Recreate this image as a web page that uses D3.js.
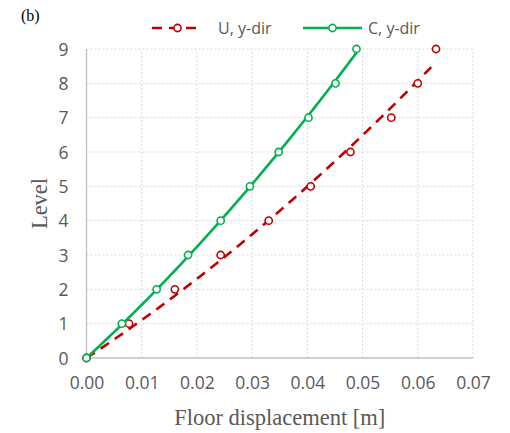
<!DOCTYPE html>
<html>
<head>
<meta charset="utf-8">
<script src="https://cdn.jsdelivr.net/npm/d3@7"></script>
<style>
  html, body { margin: 0; padding: 0; background: #fff; }
  svg { display: block; }
</style>
</head>
<body>
<svg id="chart" width="510" height="433"></svg>
<script>
// Storey levels and floor displacements [m]
const levels = [0, 1, 2, 3, 4, 5, 6, 7, 8, 9];
const dispU = [0.0000, 0.0077, 0.0160, 0.0243, 0.0330, 0.0406, 0.0478, 0.0552, 0.0600, 0.0633];
const dispC = [0.0000, 0.0064, 0.0127, 0.0184, 0.0243, 0.0296, 0.0348, 0.0402, 0.0451, 0.0489];
const seriesNames = ["U, y-dir", "C, y-dir"];
const xTicks = [0, 0.01, 0.02, 0.03, 0.04, 0.05, 0.06, 0.07];
const yTicks = [0, 1, 2, 3, 4, 5, 6, 7, 8, 9];

const red = "#C00000", green = "#00B050", textGrey = "#595959";
const svg = d3.select("#chart");
const margin = { left: 86.5, right: 37, top: 49, bottom: 75 };
const W = 510, H = 433;
const x = d3.scaleLinear().domain([0, 0.07]).range([margin.left, W - margin.right]);
const y = d3.scaleLinear().domain([0, 9]).range([H - margin.bottom, margin.top]);

// Gridlines
const grid = svg.append("g");
grid.selectAll("line.h").data(yTicks.slice(1)).join("line")
  .attr("x1", x(0)).attr("x2", x(0.07))
  .attr("y1", d => y(d)).attr("y2", d => y(d))
  .attr("stroke", "#D9D9D9").attr("stroke-width", 1).attr("stroke-dasharray", "2,2");
grid.selectAll("line.v").data(xTicks.slice(1)).join("line")
  .attr("y1", y(0)).attr("y2", y(9))
  .attr("x1", d => x(d)).attr("x2", d => x(d))
  .attr("stroke", "#D9D9D9").attr("stroke-width", 1).attr("stroke-dasharray", "2,2");

// Axes
const xAxis = d3.axisBottom(x).tickValues(xTicks).tickFormat(d3.format(".2f")).tickSize(0).tickPadding(19);
const yAxis = d3.axisLeft(y).tickValues(yTicks).tickFormat(d3.format("d")).tickSize(0).tickPadding(18);
const gx = svg.append("g").attr("transform", `translate(0,${y(0)})`).call(xAxis);
const gy = svg.append("g").attr("transform", `translate(${x(0)},0)`).call(yAxis);
[gx, gy].forEach(g => {
  g.select(".domain").attr("stroke", "#BFBFBF").attr("stroke-width", 1.3);
  g.selectAll("text").attr("fill", textGrey).attr("font-family", "'Open Sans', sans-serif").attr("font-size", 17.5);
});
gx.select(".domain").attr("d", `M${x(0)},0H${x(0.07)}`);
gy.select(".domain").attr("d", `M0,${y(0)}V${y(9)}`);
gy.selectAll("text").attr("dy", "0.36em");

// Quadratic least-squares trendline through the origin: level = b*x + c*x^2
function quadFitOrigin(xs, ys) {
  let s2 = 0, s3 = 0, s4 = 0, t1 = 0, t2 = 0;
  xs.forEach((xv, i) => {
    s2 += xv * xv; s3 += xv ** 3; s4 += xv ** 4;
    t1 += ys[i] * xv; t2 += ys[i] * xv * xv;
  });
  const det = s2 * s4 - s3 * s3;
  const b = (t1 * s4 - t2 * s3) / det;
  const c = (s2 * t2 - s3 * t1) / det;
  return xv => b * xv + c * xv * xv;
}

const series = [
  { name: seriesNames[0], xs: dispU, color: red, dash: "10,7" },
  { name: seriesNames[1], xs: dispC, color: green, dash: null }
];

const line = d3.line().x(d => x(d[0])).y(d => y(d[1]));
series.forEach(s => {
  const f = quadFitOrigin(s.xs, levels);
  const xmax = d3.max(s.xs);
  const pts = d3.range(0, 101).map(i => { const xv = xmax * i / 100; return [xv, f(xv)]; });
  svg.append("path").attr("d", line(pts)).attr("fill", "none")
    .attr("stroke", s.color).attr("stroke-width", 2.6)
    .attr("stroke-dasharray", s.dash);
  svg.append("g").selectAll("circle").data(s.xs.map((xv, i) => [xv, levels[i]])).join("circle")
    .attr("cx", d => x(d[0])).attr("cy", d => y(d[1])).attr("r", 3.6)
    .attr("fill", "#fff").attr("stroke", s.color).attr("stroke-width", 1.6);
});

// Legend
const legend = [
  { s: series[0], x0: 152, x1: 203, tx: 218 },
  { s: series[1], x0: 303, x1: 362, tx: 368 }
];
legend.forEach(l => {
  const g = svg.append("g");
  g.append("line").attr("x1", l.x0).attr("x2", l.x1).attr("y1", 28).attr("y2", 28)
    .attr("stroke", l.s.color).attr("stroke-width", 2.6).attr("stroke-dasharray", l.s.dash ? "10,7" : null);
  g.append("circle").attr("cx", (l.x0 + l.x1) / 2).attr("cy", 28).attr("r", 3.6)
    .attr("fill", "#fff").attr("stroke", l.s.color).attr("stroke-width", 1.6);
  g.append("text").attr("x", l.tx).attr("y", 33.5).text(l.s.name)
    .attr("fill", textGrey).attr("font-family", "'Open Sans', sans-serif").attr("font-size", 16);
});

// Titles
svg.append("text").attr("x", 21).attr("y", 21).text("(b)")
  .attr("font-family", "'Liberation Serif', serif").attr("font-size", 16).attr("fill", "#000");
svg.append("text").attr("x", (x(0) + x(0.07)) / 2).attr("y", 425).attr("text-anchor", "middle")
  .text("Floor displacement [m]")
  .attr("font-family", "'Liberation Serif', serif").attr("font-size", 22.5).attr("fill", textGrey);
svg.append("text").attr("transform", `translate(47,${y(4.5)}) rotate(-90)`).attr("text-anchor", "middle")
  .text("Level")
  .attr("font-family", "'Liberation Serif', serif").attr("font-size", 22.5).attr("fill", textGrey);
</script>
</body>
</html>
